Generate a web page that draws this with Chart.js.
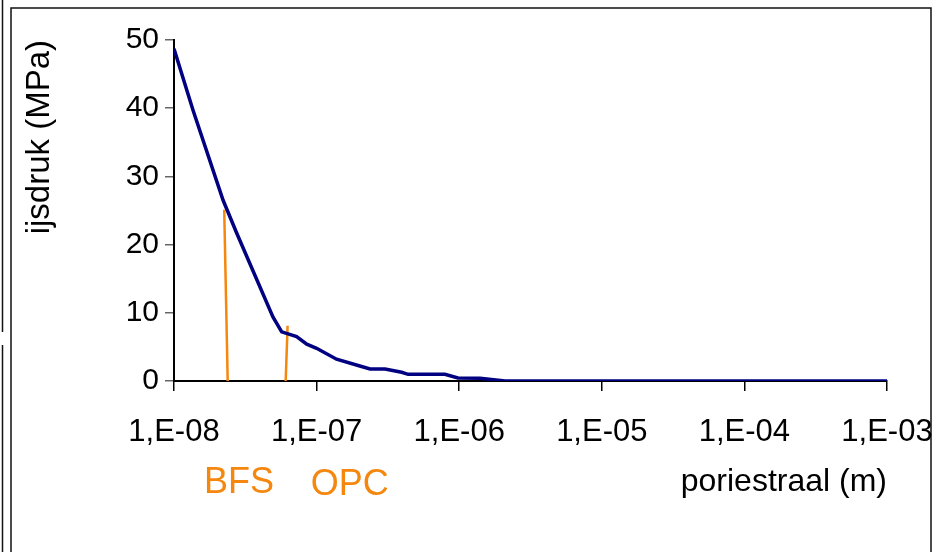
<!DOCTYPE html>
<html>
<head>
<meta charset="utf-8">
<script src="https://cdn.jsdelivr.net/npm/chart.js@4/dist/chart.umd.min.js"></script>
<style>
  html, body { margin: 0; padding: 0; background: #fff; }
  canvas { display: block; }
</style>
</head>
<body>
<canvas id="chart" width="937" height="552"></canvas>
<script>
// pore radius (m) vs ice pressure (MPa)
const poreRadius = [1.0e-8, 1.36e-8, 2.21e-8, 2.75e-8, 4.94e-8, 5.69e-8, 7.24e-8, 8.53e-8, 1.0e-7,
  1.38e-7, 2.01e-7, 2.37e-7, 3.02e-7, 3.95e-7, 4.38e-7, 7.94e-7, 9.8e-7, 1.4e-6, 2.1e-6, 1.0e-3];
const icePressure = [48.7, 39.7, 26.5, 21.7, 9.4, 7.2, 6.5, 5.4, 4.8,
  3.2, 2.2, 1.76, 1.76, 1.28, 0.98, 0.98, 0.44, 0.4, 0, 0];

// the two orange markers
const bfsX = [2.25e-8, 2.38e-8];
const bfsY = [25.1, 0];
const opcX = [6.26e-8, 6.07e-8];
const opcY = [8.1, 0];

const markerNames = ["BFS", "OPC"];
const markerLabelX = [2.86e-8, 1.71e-7];

const xTicks = [1e-8, 1e-7, 1e-6, 1e-5, 1e-4, 1e-3];

const font = "'Liberation Sans', Arial, sans-serif";
const orange = "#f5870f";

const toPoints = (xs, ys) => xs.map((x, i) => ({ x: x, y: ys[i] }));

const frame = {
  id: "frame",
  beforeDraw(chart) {
    const ctx = chart.ctx;
    ctx.save();
    ctx.strokeStyle = "#111";
    ctx.lineWidth = 1.5;
    ctx.beginPath();
    ctx.moveTo(11, 552);
    ctx.lineTo(11, 8);
    ctx.lineTo(931, 8);
    ctx.lineTo(931, 552);
    ctx.stroke();
    ctx.beginPath();
    ctx.moveTo(2.5, 0);
    ctx.lineTo(2.5, 332);
    ctx.moveTo(2.5, 345);
    ctx.lineTo(2.5, 552);
    ctx.stroke();
    ctx.restore();
  },
  afterDraw(chart) {
    const ctx = chart.ctx;
    const xs = chart.scales.x;
    ctx.save();
    ctx.fillStyle = orange;
    ctx.font = "36px " + font;
    ctx.textAlign = "center";
    ctx.textBaseline = "alphabetic";
    markerNames.forEach((name, i) => {
      ctx.fillText(name, xs.getPixelForValue(markerLabelX[i]), chart.chartArea.bottom + 112 + i * 2);
    });
    ctx.restore();
  }
};

new Chart(document.getElementById("chart"), {
  type: "line",
  data: {
    datasets: [
      {
        data: toPoints(poreRadius, icePressure),
        borderColor: "#000080",
        borderWidth: 3.5,
        pointRadius: 0,
        tension: 0
      },
      {
        data: toPoints(bfsX, bfsY),
        borderColor: orange,
        borderWidth: 2.5,
        pointRadius: 0
      },
      {
        data: toPoints(opcX, opcY),
        borderColor: orange,
        borderWidth: 2.5,
        pointRadius: 0
      }
    ]
  },
  options: {
    responsive: false,
    animation: false,
    events: [],
    layout: { autoPadding: false, padding: { left: 0, right: 50, top: 40, bottom: 0 } },
    plugins: { legend: { display: false }, tooltip: { enabled: false } },
    scales: {
      x: {
        type: "logarithmic",
        min: 1e-8,
        max: 1e-3,
        afterBuildTicks: (scale) => { scale.ticks = xTicks.map((v) => ({ value: v })); },
        afterFit: (scale) => {
          scale.height = 171;
          scale.paddingLeft = 0;
          scale.paddingRight = 0;
        },
        grid: { drawOnChartArea: false, drawTicks: true, tickLength: 10, color: "#000", lineWidth: 1.5 },
        border: { color: "#000", width: 2 },
        ticks: {
          color: "#000",
          padding: 23,
          maxRotation: 0,
          font: { family: font, size: 31 },
          callback: (v) => {
            const e = Math.round(Math.log10(v));
            return "1,E" + (e < 0 ? "-" : "+") + String(Math.abs(e)).padStart(2, "0");
          }
        },
        title: {
          display: true,
          text: "poriestraal (m)",
          align: "end",
          color: "#000",
          font: { family: font, size: 32 },
          padding: { top: 0, bottom: 51 }
        }
      },
      y: {
        min: 0,
        max: 50,
        afterFit: (scale) => {
          scale.width = 174;
          scale.paddingTop = 0;
          scale.paddingBottom = 0;
        },
        grid: { drawOnChartArea: false, drawTicks: true, tickLength: 9, color: "#666", lineWidth: 1.5 },
        border: { color: "#000", width: 2 },
        ticks: {
          stepSize: 10,
          color: "#000",
          padding: 6,
          font: { family: font, size: 30 }
        },
        title: {
          display: true,
          text: "ijsdruk (MPa)",
          align: "end",
          color: "#000",
          font: { family: font, size: 33 },
          padding: { top: 20, bottom: 0 }
        }
      }
    }
  },
  plugins: [frame]
});
</script>
</body>
</html>
